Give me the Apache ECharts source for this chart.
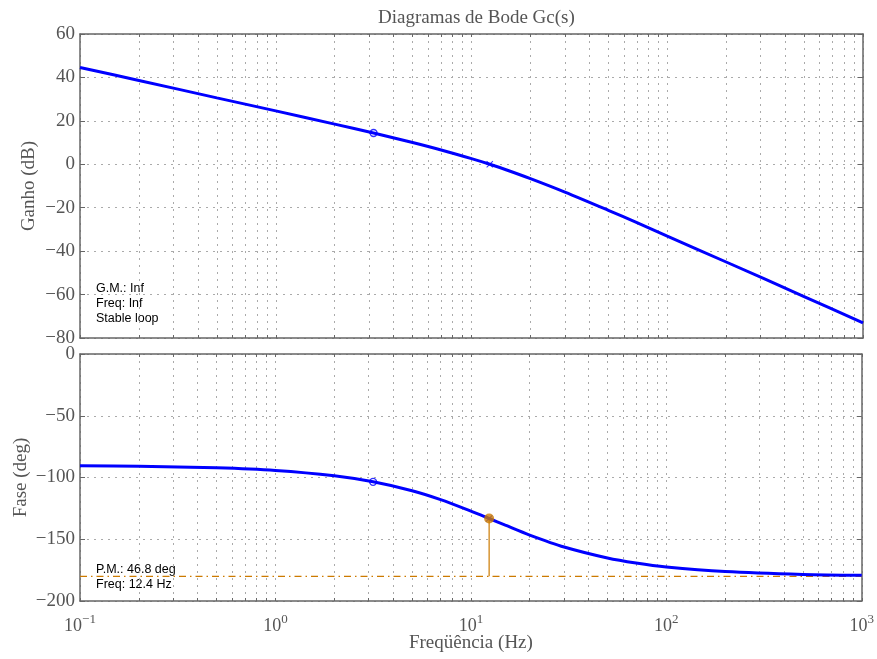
<!DOCTYPE html>
<html><head><meta charset="utf-8">
<script src="https://cdn.jsdelivr.net/npm/echarts@6/dist/echarts.min.js"></script>
<style>html,body{margin:0;padding:0;background:#fff}#c{width:877px;height:659px}</style>
</head><body><div id="c"></div><script>
// Frequencies (Hz) and values
const freq     = [0.1, 0.2, 0.5, 1, 2, 3.16, 5, 7, 10, 12.4, 15, 20, 30, 50, 70, 100, 200, 500, 1000];
const gainDb   = [44.6, 38.6, 30.6, 24.6, 18.5, 14.4, 10.0, 6.6, 2.6, 0.0, -2.5, -6.6, -12.8, -21.2, -26.9, -33.1, -45.0, -60.9, -73.0];
const phaseDeg = [-90.4, -90.9, -92.2, -94.3, -98.6, -103.5, -110.7, -117.9, -127.2, -133.2, -138.6, -146.6, -156.3, -165.2, -169.3, -172.5, -176.2, -178.5, -179.2];

// markers
const circleFreq = 3.16, circleGain = 14.4, circlePhase = -103.5;
const crossFreq = 12.4, crossGain = 0.0, crossPhase = -133.2;
const pmFreq = 12.4, pmPhase = -133.2, refPhase = -180;
const xSpan = [0.1, 1000];

// ticks
const xMinorTicks = [0.1,0.2,0.3,0.4,0.5,0.6,0.7,0.8,0.9,1,2,3,4,5,6,7,8,9,10,20,30,40,50,60,70,80,90,100,200,300,400,500,600,700,800,900,1000];
const xDecades = [0.1, 1, 10, 100, 1000];

const title = 'Diagramas de Bode Gc(s)';
const gainLabel = 'Ganho (dB)';
const phaseLabel = 'Fase (deg)';
const freqLabel = 'Freqüência (Hz)';
const gmText = ['G.M.: Inf', 'Freq: Inf', 'Stable loop'];
const pmText = ['P.M.: 46.8 deg', 'Freq: 12.4 Hz'];

const BLUE = '#0000ff', ORANGE = '#cc7a00', FRAME = '#666666', TXT = '#555555', GRIDC = '#aaaaaa';
const SERIF = '"Liberation Serif", "DejaVu Serif", serif';
const SANS = '"Liberation Sans", Arial, sans-serif';

function zip(a, b) { return a.map((v, i) => [v, b[i]]); }
function minusFmt(v) { return v < 0 ? '\u2212' + Math.abs(v) : String(v); }

const grids = [
  { left: 80, right: 14, top: 34, height: 304 },
  { left: 80, right: 14, top: 354, height: 247 }
];

function xAxes(gi, showLabel) {
  const common = {
    type: 'log', logBase: 10, min: xSpan[0], max: xSpan[1], gridIndex: gi,
    axisLine: { show: true, onZero: false, lineStyle: { color: FRAME, width: 1.5 } },
    axisTick: { show: true, inside: true, length: 3, customValues: xMinorTicks, lineStyle: { color: FRAME, width: 1 } },
  };
  return [
    Object.assign({}, common, {
      position: 'bottom',
      splitLine: { show: true, lineStyle: { color: GRIDC, width: 1, type: [2, 5] } },
      axisLabel: {
        show: showLabel, customValues: xDecades, margin: 12,
        formatter: v => '{b|10}{e|' + minusFmt(Math.round(Math.log10(v))) + '}',
        rich: {
          b: { fontFamily: SERIF, fontSize: 18, color: TXT },
          e: { fontFamily: SERIF, fontSize: 13, color: TXT, verticalAlign: 'top', padding: [0, 0, 14, 0] }
        }
      },
      name: showLabel ? freqLabel : '', nameLocation: 'middle', nameGap: 33, nameMoveOverlap: false,
      nameTextStyle: { fontFamily: SERIF, fontSize: 19, color: TXT }
    }),
    Object.assign({}, common, {
      position: 'top', splitLine: { show: false }, axisLabel: { show: false }
    })
  ];
}

function yAxes(gi, min, max, interval, name, gap) {
  const common = {
    type: 'value', min, max, interval, gridIndex: gi,
    axisLine: { show: true, onZero: false, lineStyle: { color: FRAME, width: 1.5 } },
    axisTick: { show: true, inside: true, length: 5, lineStyle: { color: FRAME, width: 1 } },
  };
  return [
    Object.assign({}, common, {
      position: 'left',
      splitLine: { show: true, lineStyle: { color: GRIDC, width: 1, type: [2, 5] } },
      axisLabel: { fontFamily: SERIF, fontSize: 19, color: TXT, margin: 5, formatter: minusFmt },
      name, nameLocation: 'middle', nameGap: gap, nameMoveOverlap: false,
      nameTextStyle: { fontFamily: SERIF, fontSize: 19, color: TXT }
    }),
    Object.assign({}, common, {
      position: 'right', splitLine: { show: false }, axisLabel: { show: false }
    })
  ];
}

const crossPath = 'path://M0,1 L1,0 L5,4 L9,0 L10,1 L6,5 L10,9 L9,10 L5,6 L1,10 L0,9 L4,5 Z';

const option = {
  animation: false,
  backgroundColor: '#fff',
  title: { text: title, left: 373, top: 4, textStyle: { fontFamily: SERIF, fontSize: 19, fontWeight: 'normal', color: '#555' } },
  grid: grids,
  xAxis: [].concat(xAxes(0, false), xAxes(1, true)),
  yAxis: [].concat(yAxes(0, -80, 60, 20, gainLabel, 41), yAxes(1, -200, 0, 50, phaseLabel, 49)),
  series: [
    { type: 'line', xAxisIndex: 0, yAxisIndex: 0, data: zip(freq, gainDb), smooth: 0.3, showSymbol: false,
      lineStyle: { color: BLUE, width: 3 }, z: 3 },
    { type: 'scatter', xAxisIndex: 0, yAxisIndex: 0, data: [[circleFreq, circleGain]], symbol: 'circle', symbolSize: 7,
      itemStyle: { color: 'rgba(0,0,0,0)', borderColor: BLUE, borderWidth: 1.3 }, z: 4 },
    { type: 'scatter', xAxisIndex: 0, yAxisIndex: 0, data: [[crossFreq, crossGain]], symbol: crossPath, symbolSize: 7,
      itemStyle: { color: BLUE }, z: 4 },

    { type: 'line', xAxisIndex: 2, yAxisIndex: 2, data: [[xSpan[0], refPhase], [xSpan[1], refPhase]], showSymbol: false,
      lineStyle: { color: ORANGE, width: 1.2, type: [7, 4, 1.5, 4] }, z: 2 },
    { type: 'line', xAxisIndex: 2, yAxisIndex: 2, data: [[pmFreq, refPhase], [pmFreq, pmPhase]], showSymbol: false,
      lineStyle: { color: ORANGE, width: 1.2 }, z: 2 },
    { type: 'line', xAxisIndex: 2, yAxisIndex: 2, data: zip(freq, phaseDeg), smooth: 0.3, showSymbol: false,
      lineStyle: { color: BLUE, width: 3 }, z: 3 },
    { type: 'scatter', xAxisIndex: 2, yAxisIndex: 2, data: [[circleFreq, circlePhase]], symbol: 'circle', symbolSize: 7,
      itemStyle: { color: 'rgba(0,0,0,0)', borderColor: BLUE, borderWidth: 1.3 }, z: 4 },
    { type: 'scatter', xAxisIndex: 2, yAxisIndex: 2, data: [[crossFreq, crossPhase]], symbol: crossPath, symbolSize: 7,
      itemStyle: { color: BLUE }, z: 4 },
    { type: 'scatter', xAxisIndex: 2, yAxisIndex: 2, data: [[pmFreq, pmPhase]], symbol: 'circle', symbolSize: 10,
      itemStyle: { color: ORANGE }, z: 5 }
  ],
  graphic: [
    { type: 'text', left: 96, top: 281, style: { text: gmText.join('\n'), font: '12.5px ' + SANS, fill: '#000', lineHeight: 15 } },
    { type: 'text', left: 96, top: 562, style: { text: pmText.join('\n'), font: '12.5px ' + SANS, fill: '#000', lineHeight: 15 } }
  ]
};

const chart = echarts.init(document.getElementById('c'), null, { renderer: 'canvas' });
chart.setOption(option);
</script></body></html>
